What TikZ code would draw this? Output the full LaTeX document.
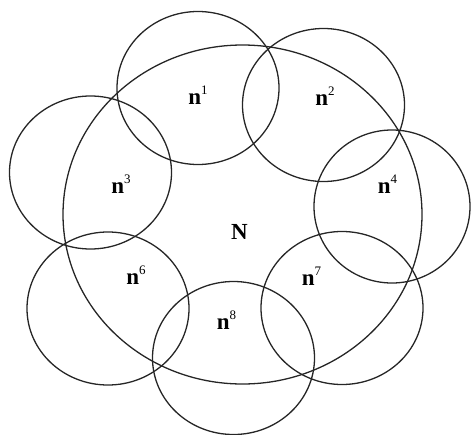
\documentclass[tikz,border=0pt]{standalone}
\usepackage{fontspec}
\setmainfont{Liberation Serif}
\usepackage{tikz}
\usetikzlibrary{shapes.geometric, positioning}
\tikzset{
  ring/.style  = {ellipse, draw=black!85, line width=1.3pt, inner sep=0pt,
    minimum width=162pt, minimum height=153pt},
  bigset/.style = {ellipse, draw=black!85, line width=1.3pt, inner sep=0pt,
    minimum width=359pt, minimum height=339pt},
  lab/.style   = {inner sep=0pt, anchor=base, font=\fontsize{23}{23}\selectfont\bfseries},
}
\newcommand{\nd}[1]{n\raisebox{9.5pt}{\fontsize{13}{13}\selectfont\mdseries #1}}

\begin{document}
\begin{tikzpicture}[x=1pt, y=-1pt]
  \useasboundingbox (0,0) rectangle (471,434);
  % big set N
  \node[bigset] (N) at (242.5,214.5) {};
  % the neighbourhoods
  \node[ring] (c1) at (198,88) {};
  \node[ring] (c2) at (323.5,105) {};
  \node[ring] (c3) at (90.5,172.5) {};
  \node[ring, minimum width=156pt] (c4) at (392,206.5) {};
  \node[ring] (c6) at (108,308.5) {};
  \node[ring] (c7) at (342,308) {};
  \node[ring] (c8) at (233.5,358) {};
  % labels
  \node[lab] (l1) at (198,104) {\nd{1}};
  \node[lab] (l2) at (325,105) {\nd{2}};
  \node[lab] (l3) at (121,193) {\nd{3}};
  \node[lab] (l4) at (387.5,193) {\nd{4}};
  \node[lab] (l6) at (136,284) {\nd{6}};
  \node[lab] (l7) at (311.5,285) {\nd{7}};
  \node[lab] (l8) at (226.5,329) {\nd{8}};
  \node[lab] (lN) at (239.5,239) {N};
\end{tikzpicture}
\end{document}
